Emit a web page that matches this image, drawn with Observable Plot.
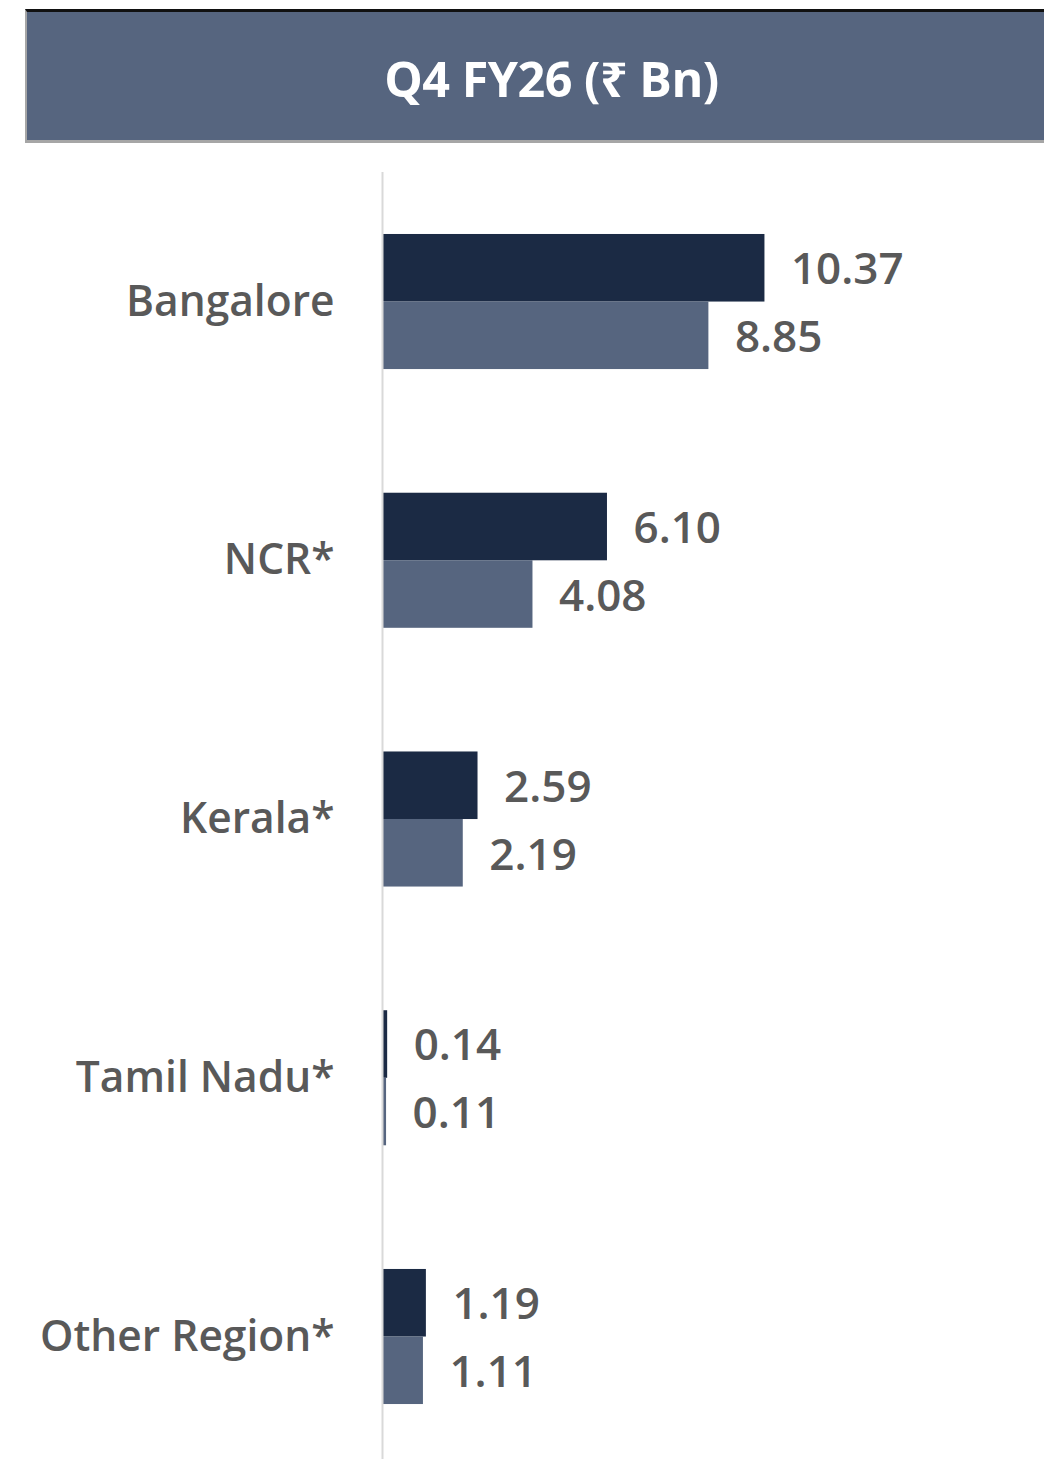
<!DOCTYPE html>
<html>
<head>
<meta charset="utf-8">
<script src="https://cdn.jsdelivr.net/npm/d3@7"></script>
<script src="https://cdn.jsdelivr.net/npm/@observablehq/plot@0.6"></script>
<style>
  html, body { margin: 0; padding: 0; background: #fff; }
  body { width: 1044px; height: 1459px; overflow: hidden; position: relative; font-family: "Open Sans", "Noto Sans", sans-serif; }
  #header {
    position: absolute; left: 25px; top: 9px; width: 1019px; height: 134px;
    background: #56657f; border-top: 3px solid #111; border-bottom: 3px solid #a6a6a6; border-left: 2px solid #a6a6a6;
    box-sizing: border-box;
    color: #fff; font-weight: 700; font-size: 48.5px; line-height: 132px;
    text-align: center; padding-left: 32px; letter-spacing: -0.5px;
  }
  #chart { position: absolute; left: 0; top: 145px; }
</style>
</head>
<body>
<div id="header">Q4 FY26 (₹ Bn)</div>
<div id="chart"></div>
<script>
const categories = ["Bangalore", "NCR*", "Kerala*", "Tamil Nadu*", "Other Region*"];
const current = [10.37, 6.10, 2.59, 0.14, 1.19];
const previous = [8.85, 4.08, 2.19, 0.11, 1.11];

const curData = categories.map((c, i) => ({ region: c, value: current[i] }));
const prevData = categories.map((c, i) => ({ region: c, value: previous[i] }));

const dark = "#1b2a44";
const light = "#56657f";
const textColor = "#595959";

const chart = Plot.plot({
  width: 1044,
  height: 1314,
  marginLeft: 382,
  marginRight: 0,
  marginTop: 27,
  marginBottom: 0,
  style: { fontFamily: "'Open Sans', 'Noto Sans', sans-serif", background: "transparent", overflow: "visible" },
  x: { domain: [0, 17.95], axis: null },
  y: { domain: categories, paddingInner: 0.478, paddingOuter: 0.226, align: 0.53, round: false, label: null },
  marks: [
    Plot.barX(curData, { x: "value", y: "region", fill: dark, insetBottom: 67.5 }),
    Plot.barX(prevData, { x: "value", y: "region", fill: light, insetTop: 67.5 }),
    Plot.ruleX([0], { stroke: "#d9d9d9", strokeWidth: 2 }),
    Plot.text(curData, { x: "value", y: "region", text: d => d.value.toFixed(2), dx: 26, dy: -32, textAnchor: "start", fill: textColor, fontSize: 44, fontWeight: 600 }),
    Plot.text(prevData, { x: "value", y: "region", text: d => d.value.toFixed(2), dx: 26, dy: 36, textAnchor: "start", fill: textColor, fontSize: 44, fontWeight: 600 }),
    Plot.axisY({ tickSize: 0, tickPadding: 48, fontSize: 42.5, fontWeight: 600, fill: textColor, label: null })
  ]
});
chart.querySelectorAll("g[aria-label='y-axis tick label'] text, g[aria-label='y-axis tick label']").forEach(el => {
  el.setAttribute("font-weight", "600");
});
document.getElementById("chart").appendChild(chart);
</script>
</body>
</html>
